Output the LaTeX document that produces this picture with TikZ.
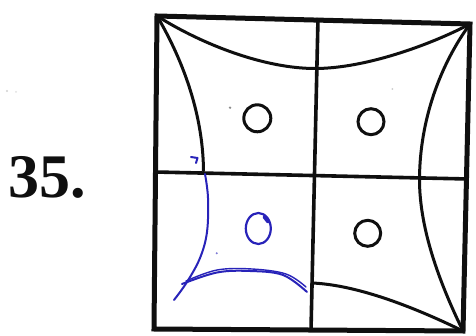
\documentclass[tikz,border=0pt]{standalone}
\usepackage{fontspec}
\setmainfont{Liberation Serif}
\definecolor{ink}{RGB}{15,15,15}
\definecolor{pen}{RGB}{40,35,185}
\begin{document}
\begin{tikzpicture}[x=1pt,y=-1pt,
  frame/.style={draw=ink,line width=5pt,line join=miter},
  midline/.style={draw=ink,line width=3.6pt},
  arcline/.style={draw=ink,line width=3pt,line cap=round},
  hole/.style={draw=ink,line width=3pt},
  penline/.style={draw=pen,line width=2pt,line cap=round,line join=round}]
\useasboundingbox[fill=white] (0,0) rectangle (476,336);
% label
\node[anchor=base west,inner sep=0pt,font=\fontsize{62}{62}\selectfont\bfseries,text=ink] (num) at (8,198) {35.};
% outer square
\coordinate (TL) at (157,16);
\coordinate (TR) at (470,24);
\coordinate (BR) at (463,331);
\coordinate (BL) at (154,329);
\draw[frame] (TL) -- (TR) -- (BR) -- (BL) -- cycle;
% mid lines
\draw[midline] (318,18) -- (311,330);
\draw[midline] (155,172) -- (468,179);
% top arc
\draw[arcline] (TL) .. controls (203,45) and (265,68.5) .. (315,68.5)
  .. controls (365,68.5) and (430,45) .. (TR);
% left arc (upper half)
\draw[arcline] (TL) .. controls (180,55) and (203,110) .. (203.5,171);
% right arc
\draw[arcline] (TR) .. controls (440,65) and (420,120) .. (419.5,178)
  .. controls (419,232) and (443,290) .. (BR);
% bottom arc (right half)
\draw[arcline] (312,283) .. controls (360,285) and (420,310) .. (BR);
% holes
\draw[hole] (257.3,118.3) circle (13.5);
\draw[hole] (371,121.7) circle (13);
\draw[hole] (367.7,233.3) circle (13);
% faint specks
\fill[black!45] (230,107.7) circle (1.3);
\fill[black!20] (392.3,89) circle (1);
\fill[black!18] (7,91) circle (1.2);
\fill[black!12] (16,92) circle (1);
% blue pen additions
\draw[penline] (191,157) -- (197.5,158) -- (196,163);
\draw[penline] plot[smooth,tension=0.6] coordinates {(205,174) (208,198) (207,232) (200,258) (187,282) (174,300)};
\draw[penline] plot[smooth,tension=0.6] coordinates {(182,284) (217,272.5) (250,271) (283,275) (307,292)};
\draw[penline,line width=1.4pt] plot[smooth,tension=0.6] coordinates {(186,281) (217,270) (252,269) (286,274) (306,287)};
\draw[penline,line width=2.2pt] (258.3,228.5) ellipse (12.5 and 15.5);
\draw[penline,line width=3pt] (264,217) -- (268,222);
\fill[pen!60] (216.7,253.3) circle (1.1);
\end{tikzpicture}
\end{document}
